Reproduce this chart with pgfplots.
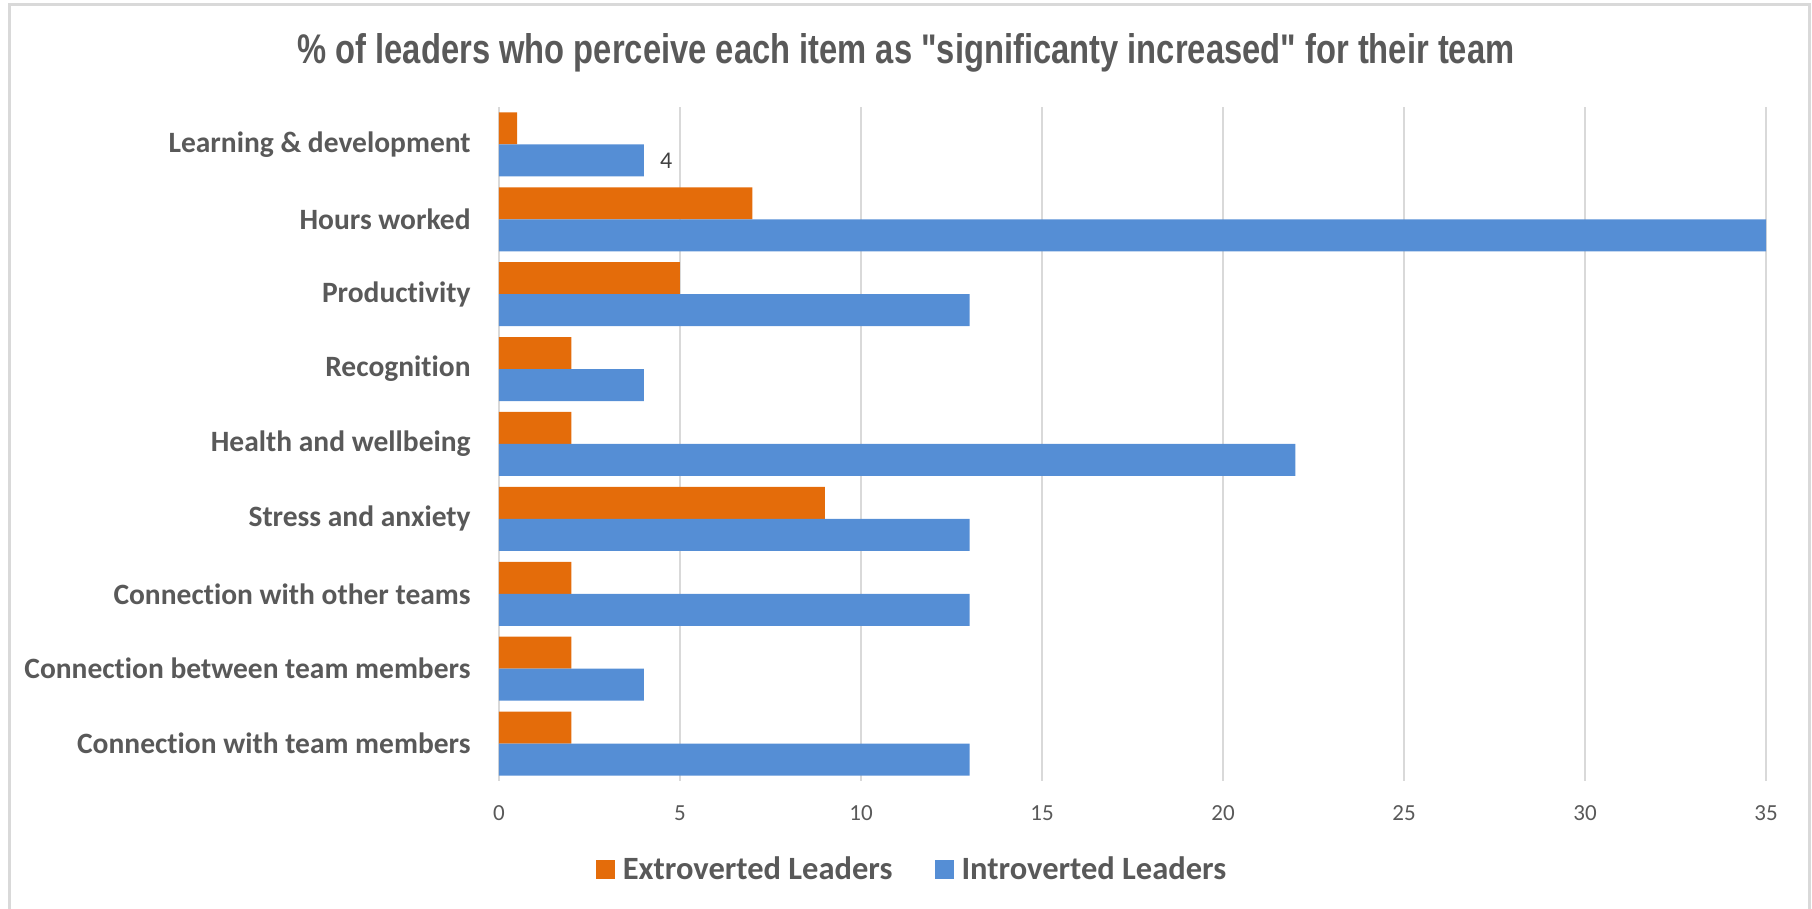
\documentclass[border=0pt]{standalone}
\usepackage{fontspec}
\setmainfont{Carlito}[Ligatures={NoCommon}]
\newfontfamily\titlefont{Liberation Sans}
\usepackage{pgfplots}
\pgfplotsset{compat=1.18}
\definecolor{ext}{HTML}{E46C0A}
\definecolor{intro}{HTML}{558ED5}
\definecolor{txt}{HTML}{595959}
\definecolor{lbl}{HTML}{404040}
\definecolor{grd}{HTML}{D9D9D9}
\begin{document}
\begin{tikzpicture}
\path[use as bounding box] (0,0) rectangle (906pt,454.5pt);
\draw[grd, line width=1.5pt] (4.5pt,-5pt) -- (4.5pt,452pt) -- (904.5pt,452pt) -- (904.5pt,-5pt);
\node[anchor=base, text=txt, inner sep=0pt] at (453pt,422.5pt) {\resizebox{608.5pt}{15pt}{\titlefont\bfseries \% of leaders who perceive each item as "significanty increased" for their team}};
\begin{axis}[
 at={(249.5pt,64pt)}, anchor=south west,
 scale only axis, width=633.5pt, height=337pt,
 xbar, bar width=16pt,
 xmin=0, xmax=35, ymin=-0.5, ymax=8.5,
 xtick={0,5,...,35}, ytick={0,...,8},
 yticklabels={Connection with team members, Connection between team members, Connection with other teams, Stress and anxiety, Health and wellbeing, Recognition, Productivity, Hours worked, Learning \& development},
 xmajorgrids, ymajorgrids=false,
 major grid style={grd, line width=0.75pt},
 axis line style={draw=none},
 major tick length=0pt,
 tick style={draw=none},
 x tick label style={font=\fontsize{11.5}{12}\selectfont, text=txt, inner sep=0pt, anchor=center, yshift=-16pt},
 y tick label style={font=\fontsize{14.75}{16}\selectfont\bfseries, text=txt, inner sep=0pt, anchor=east, xshift=-14pt},
 /pgf/number format/assume math mode=true,
 legend style={at={(0.3268,-0.132)}, anchor=center, draw=none, fill=none, legend columns=2,
   font=\fontsize{16.25}{17}\selectfont\bfseries, text=txt,
   /tikz/every odd column/.append style={column sep=2pt},
   /tikz/every even column/.append style={column sep=19pt}, cells={anchor=west}},
]
\addplot[fill=ext, draw=none, bar shift=8pt, legend image code/.code={\fill[ext] (0pt,-4.75pt) rectangle (9.5pt,4.75pt);}] coordinates {(2,0) (2,1) (2,2) (9,3) (2,4) (2,5) (5,6) (7,7) (0.5,8)};
\addlegendentry{Extroverted Leaders}
\addplot[fill=intro, draw=none, bar shift=-8pt, legend image code/.code={\fill[intro] (0pt,-4.75pt) rectangle (9.5pt,4.75pt);}] coordinates {(13,0) (4,1) (13,2) (13,3) (22,4) (4,5) (13,6) (35,7) (4,8)};
\addlegendentry{Introverted Leaders}
\addplot[draw=none, fill=none, bar shift=-8pt, forget plot, point meta=x, nodes near coords,
  nodes near coords style={anchor=west, inner sep=0pt, xshift=8pt, font=\fontsize{12}{13}\selectfont, text=lbl},
  /pgf/number format/assume math mode=true] coordinates {(4,8)};
\end{axis}
\end{tikzpicture}
\end{document}
